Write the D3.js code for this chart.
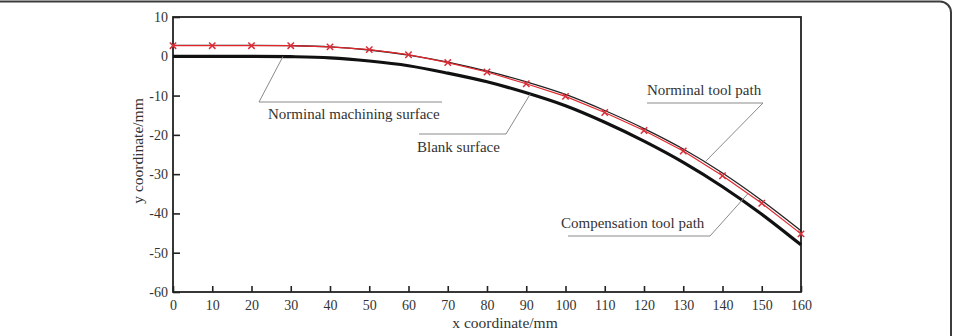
<!DOCTYPE html>
<html>
<head>
<meta charset="utf-8">
<script src="https://cdn.jsdelivr.net/npm/d3@7"></script>
<style>
  body { margin: 0; background: #fff; }
  svg { display: block; }
</style>
</head>
<body>
<div id="chart"></div>
<script>
// data (mm)
var xValues = [0, 10, 20, 30, 40, 50, 60, 70, 80, 90, 100, 110, 120, 130, 140, 150, 160];
var blankSurface = [0, 0, 0, -0.1, -0.4, -1.2, -2.4, -4.3, -6.5, -9.3, -12.6, -16.8, -21.6, -27.0, -33.2, -40.2, -48.0];
var nominalToolPath = [2.8, 2.8, 2.8, 2.7, 2.4, 1.6, 0.3, -1.5, -3.8, -6.5, -9.7, -13.8, -18.4, -23.6, -29.7, -36.7, -44.4];
var compensationToolPath = [2.7, 2.7, 2.7, 2.7, 2.4, 1.7, 0.4, -1.6, -4.0, -7.0, -10.2, -14.3, -18.9, -24.1, -30.4, -37.4, -45.2];
var xTickValues = [0, 10, 20, 30, 40, 50, 60, 70, 80, 90, 100, 110, 120, 130, 140, 150, 160];
var yTickValues = [10, 0, -10, -20, -30, -40, -50, -60];

var W = 957, H = 336;
var margin = {top: 17, right: 156, bottom: 44, left: 173};
var width = W - margin.left - margin.right,
    height = H - margin.top - margin.bottom;

var svg = d3.select("#chart")
  .append("svg")
  .attr("width", W)
  .attr("height", H);

// card frame (top edge + rounded right edge)
svg.append("path")
  .attr("d", "M0,1.5 H940 A11,11 0 0 1 951,12.5 V336")
  .attr("fill", "none")
  .attr("stroke", "#3c3c3c")
  .attr("stroke-width", 2);

var g = svg.append("g")
  .attr("transform", "translate(" + margin.left + "," + margin.top + ")");

var x = d3.scaleLinear().domain([0, 160]).range([0, width]);
var y = d3.scaleLinear().domain([-60, 10]).range([height, 0]);

var font = "'Liberation Serif', 'Times New Roman', serif";
var plain = function(d) { return String(d); }; // hyphen minus like the original

// axes
var xAxis = g.append("g")
  .attr("transform", "translate(0," + height + ")")
  .call(d3.axisBottom(x).tickValues(xTickValues).tickFormat(plain)
    .tickSizeInner(-6).tickSizeOuter(0).tickPadding(8));
var yAxis = g.append("g")
  .call(d3.axisLeft(y).tickValues(yTickValues).tickFormat(plain)
    .tickSizeInner(-7).tickSizeOuter(0).tickPadding(5));

[xAxis, yAxis].forEach(function(a) {
  a.select(".domain").remove();
  a.selectAll(".tick line").attr("stroke", "#222").attr("stroke-width", 1.6);
  a.selectAll("text")
    .attr("fill", "#333")
    .attr("font-size", "14px")
    .attr("font-family", font);
});

// plot box
g.append("rect")
  .attr("x", 0).attr("y", 0)
  .attr("width", width).attr("height", height)
  .attr("fill", "none")
  .attr("stroke", "#222")
  .attr("stroke-width", 1.8);

var lineOf = function(vals, curve) {
  return d3.line()
    .x(function(d, i) { return x(xValues[i]); })
    .y(function(d) { return y(d); })
    .curve(curve)(vals);
};

g.append("path")
  .attr("d", lineOf(blankSurface, d3.curveMonotoneX))
  .attr("fill", "none")
  .attr("stroke", "#111")
  .attr("stroke-width", 3.2);

g.append("path")
  .attr("d", lineOf(nominalToolPath, d3.curveMonotoneX))
  .attr("fill", "none")
  .attr("stroke", "#222")
  .attr("stroke-width", 1.3);

g.append("path")
  .attr("d", lineOf(compensationToolPath, d3.curveLinear))
  .attr("fill", "none")
  .attr("stroke", "#e2262c")
  .attr("stroke-width", 1.2);

var s = 3.2;
g.append("g")
  .selectAll("path")
  .data(compensationToolPath)
  .enter().append("path")
  .attr("d", function(d, i) {
    var cx = x(xValues[i]), cy = y(d);
    return "M" + (cx - s) + "," + (cy - s) + "L" + (cx + s) + "," + (cy + s) +
           "M" + (cx - s) + "," + (cy + s) + "L" + (cx + s) + "," + (cy - s);
  })
  .attr("stroke", "#d8303a")
  .attr("stroke-width", 1.5)
  .attr("fill", "none");

// axis titles
svg.append("text")
  .attr("x", 505).attr("y", 328)
  .attr("text-anchor", "middle")
  .attr("fill", "#333")
  .attr("font-size", "15.5px")
  .attr("font-family", font)
  .text("x coordinate/mm");

svg.append("text")
  .attr("transform", "translate(143,151) rotate(-90)")
  .attr("text-anchor", "middle")
  .attr("fill", "#333")
  .attr("font-size", "15.5px")
  .attr("font-family", font)
  .text("y coordinate/mm");

// annotations: label, text start, underline, and the curve point the leader goes to
function valueAt(vals, xv) {
  return d3.scaleLinear().domain(xValues).range(vals)(xv);
}
var annotations = [
  {label: "Norminal machining surface", tx: 268, ty: 119, ux0: 259, ux1: 442, uy: 102, end: "left",  series: blankSurface, at: 28},
  {label: "Blank surface",              tx: 417, ty: 152, ux0: 419, ux1: 506, uy: 134, end: "right", series: blankSurface, at: 91},
  {label: "Norminal tool path",         tx: 647, ty: 95,  ux0: 647, ux1: 763, uy: 103, end: "right", series: nominalToolPath, at: 135.5},
  {label: "Compensation tool path",     tx: 561, ty: 228, ux0: 568, ux1: 710, uy: 236, end: "right", series: compensationToolPath, at: 146.5}
];

annotations.forEach(function(a) {
  var px = margin.left + x(a.at), py = margin.top + y(valueAt(a.series, a.at));
  var kx = a.end === "left" ? a.ux0 : a.ux1;
  svg.append("path")
    .attr("d", "M" + a.ux0 + "," + a.uy + "H" + a.ux1 + "M" + kx + "," + a.uy + "L" + px + "," + py)
    .attr("fill", "none")
    .attr("stroke", "#8a8a8a")
    .attr("stroke-width", 1);
  svg.append("text")
    .attr("x", a.tx).attr("y", a.ty)
    .attr("fill", "#333")
    .attr("font-size", "15px")
    .attr("font-family", font)
    .text(a.label);
});
</script>
</body>
</html>
